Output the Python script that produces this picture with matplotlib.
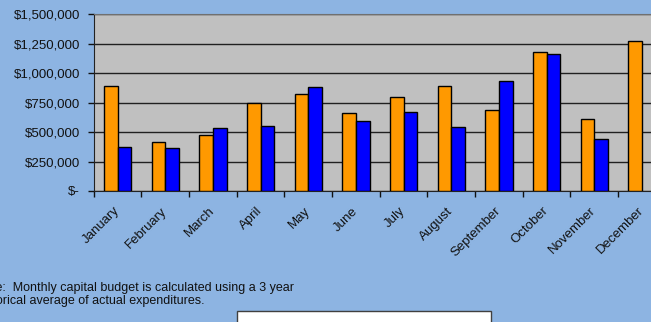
import numpy as np
import matplotlib.pyplot as plt
from matplotlib.ticker import FuncFormatter, FixedLocator

plt.rcParams['font.family'] = ['Liberation Sans', 'DejaVu Sans']

months = ['January', 'February', 'March', 'April', 'May', 'June', 'July',
          'August', 'September', 'October', 'November', 'December']
budget = [895000, 419000, 475000, 744000, 821000, 665000, 795000,
          894000, 688000, 1177000, 614000, 1271000]
actual = [376000, 368000, 535000, 552000, 880000, 592000, 668000,
          541000, 934000, 1160000, 439000, np.nan]
yticks = [0, 250000, 500000, 750000, 1000000, 1250000, 1500000]
note = ("Note:  Monthly capital budget is calculated using a 3 year\n"
        "historical average of actual expenditures.")

bg = '#8db4e2'
W, H = 651, 322

fig = plt.figure(figsize=(W / 100, H / 100), dpi=100, facecolor=bg)
ax = fig.add_axes([93.7 / W, (H - 191) / H, 572 / W, 176.7 / H])
ax.set_facecolor('#c0c0c0')

x = np.arange(len(months))
w = 0.287
b1 = ax.bar(x - w / 2, budget, w, color='#ff9900', edgecolor='black', linewidth=1, zorder=3, label='Budget')
b2 = ax.bar(x + w / 2, actual, w, color='#0000ff', edgecolor='black', linewidth=1, zorder=3, label='Actual')

ax.set_xlim(-0.5, 11.5)
ax.set_ylim(0, 1500000)
ax.set_yticks(yticks)
ax.yaxis.set_major_formatter(FuncFormatter(lambda v, p: '$-' if v == 0 else '${:,.0f}'.format(v)))
ax.grid(axis='y', color='#202020', linewidth=1, zorder=1)
ax.tick_params(axis='y', length=4, width=1, pad=5.7, labelsize=9.5, colors='#111111')

ax.set_xticks(x)
ax.set_xticklabels(months, rotation=45, ha='right', va='center', rotation_mode='anchor')
ax.tick_params(axis='x', which='major', length=0, pad=13, labelsize=9.5, labelcolor='#111111')
ax.xaxis.set_minor_locator(FixedLocator(np.arange(-0.5, 12, 1)))
ax.tick_params(axis='x', which='minor', length=4, width=1, color='#111111')

for s in ['left', 'bottom']:
    ax.spines[s].set_color('#222222')
ax.spines['top'].set_color('#707070')
ax.spines['right'].set_visible(False)

fig.text(-24.5 / W, 1 - 282 / H, note, ha='left', va='top', fontsize=9, color='#111111', linespacing=1.15)

fig.legend(handles=[b1, b2], loc='upper left', bbox_to_anchor=(237 / W, 1 - 311 / H, 254 / W, 0),
           mode='expand', ncol=2, borderpad=2.2, borderaxespad=0, fancybox=False,
           edgecolor='#404040', framealpha=1, fontsize=9.5)

fig.savefig('out.png', dpi=100, facecolor=bg)
